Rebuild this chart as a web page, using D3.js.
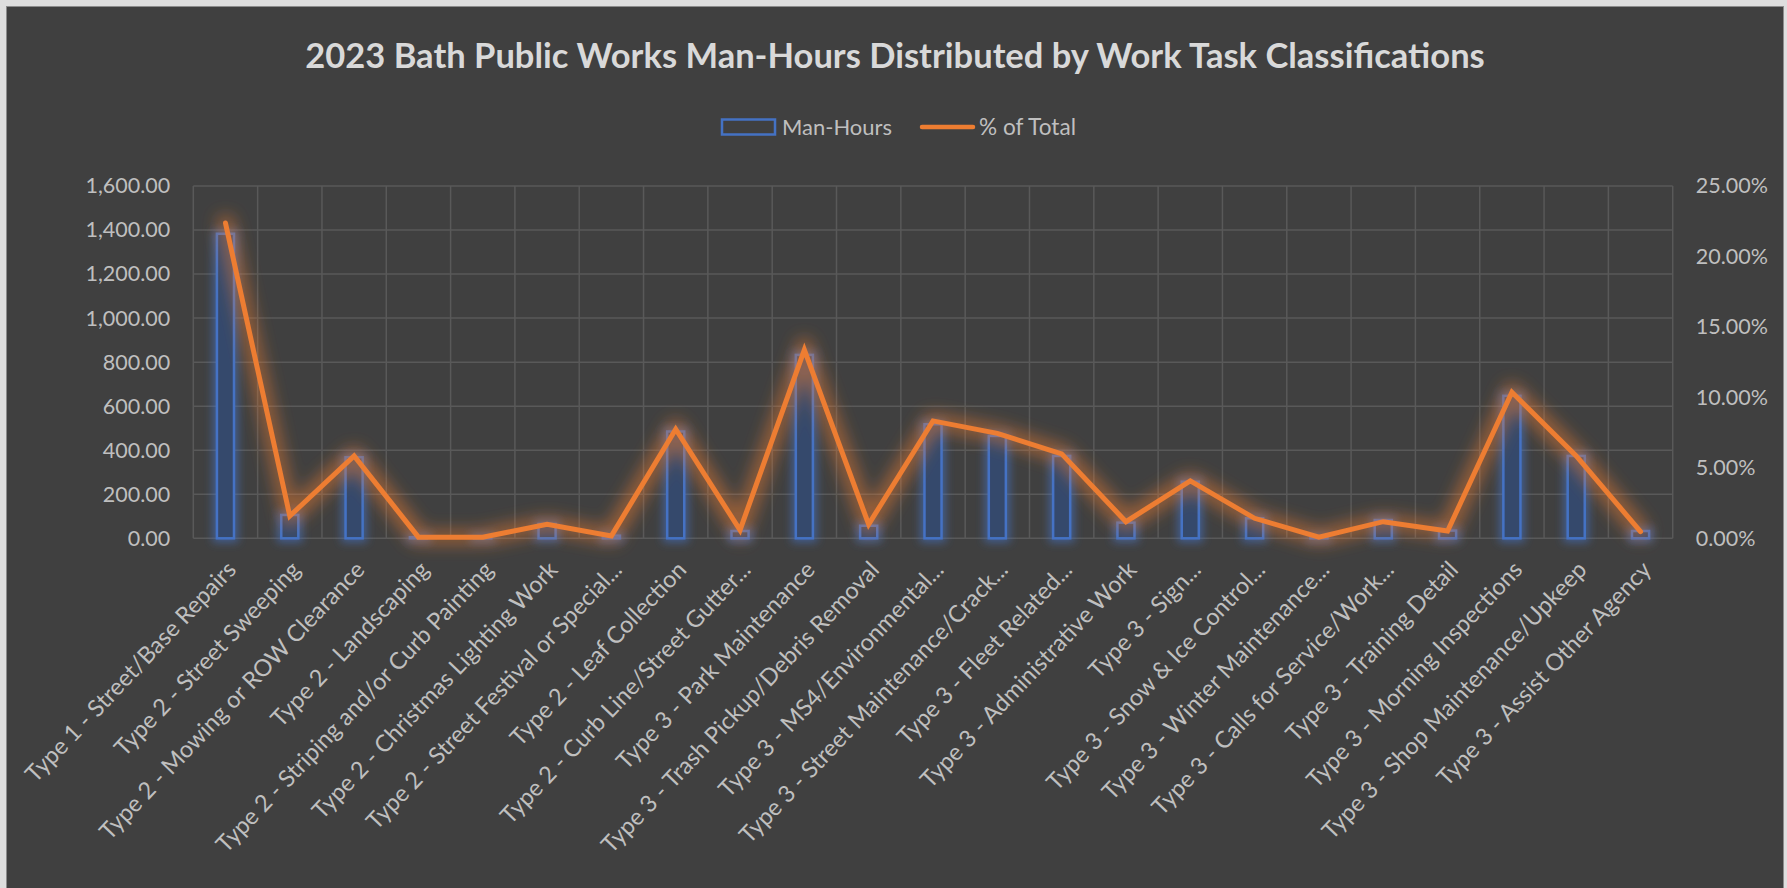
<!DOCTYPE html>
<html><head><meta charset="utf-8">
<script src="https://cdn.jsdelivr.net/npm/d3@7"></script>
<style>html,body{margin:0;padding:0;background:#dedede;overflow:hidden}</style>
</head><body><svg id="c" width="1787" height="888"></svg>
<script>
const titleText = "2023 Bath Public Works Man-Hours Distributed by Work Task Classifications";
const seriesNames = ["Man-Hours", "% of Total"];
const categories = [
  "Type 1 - Street/Base Repairs",
  "Type 2 - Street Sweeping",
  "Type 2 - Mowing or ROW Clearance",
  "Type 2 - Landscaping",
  "Type 2 - Striping and/or Curb Painting",
  "Type 2 - Christmas Lighting Work",
  "Type 2 - Street Festival or Special...",
  "Type 2 - Leaf Collection",
  "Type 2 - Curb Line/Street Gutter...",
  "Type 3 - Park Maintenance",
  "Type 3 - Trash Pickup/Debris Removal",
  "Type 3 - MS4/Environmental...",
  "Type 3 - Street Maintenance/Crack...",
  "Type 3 - Fleet Related...",
  "Type 3 - Administrative Work",
  "Type 3 - Sign...",
  "Type 3 - Snow & Ice Control...",
  "Type 3 - Winter Maintenance...",
  "Type 3 - Calls for Service/Work...",
  "Type 3 - Training Detail",
  "Type 3 - Morning Inspections",
  "Type 3 - Shop Maintenance/Upkeep",
  "Type 3 - Assist Other Agency"
];
const manHours = [1383, 106, 368, 5, 4, 65, 12, 485, 33, 833, 57, 518, 465, 374, 71, 257, 91, 4, 83, 35, 647, 374, 33];
const pctOfTotal = [22.37, 1.58, 5.84, 0.08, 0.07, 1.00, 0.17, 7.74, 0.59, 13.37, 0.99, 8.33, 7.45, 5.99, 1.18, 4.07, 1.42, 0.08, 1.18, 0.52, 10.37, 5.84, 0.47];
const leftTicks = [0, 200, 400, 600, 800, 1000, 1200, 1400, 1600];
const rightTicks = [0, 5, 10, 15, 20, 25];

const svg = d3.select("#c");
const plot = {left: 193.3, right: 1672.7, top: 186, bottom: 538.3};
const FONT = "Lato, 'Open Sans', sans-serif";
const TXT = "#bfbfbf";

svg.append("rect").attr("x", 6.5).attr("y", 6.5).attr("width", 1777).attr("height", 890)
  .attr("fill", "#404040").attr("stroke", "#8c8c8c").attr("stroke-width", 1);

const defs = svg.append("defs");
function glow(id, color, dilate, blur, op) {
  const f = defs.append("filter").attr("id", id).attr("x", "-50%").attr("y", "-50%").attr("width", "200%").attr("height", "200%");
  f.append("feMorphology").attr("in", "SourceAlpha").attr("operator", "dilate").attr("radius", dilate).attr("result", "d");
  f.append("feGaussianBlur").attr("in", "d").attr("stdDeviation", blur).attr("result", "b");
  f.append("feFlood").attr("flood-color", color).attr("flood-opacity", op).attr("result", "c");
  f.append("feComposite").attr("in", "c").attr("in2", "b").attr("operator", "in").attr("result", "g");
  const m = f.append("feMerge");
  m.append("feMergeNode").attr("in", "g");
  m.append("feMergeNode").attr("in", "SourceGraphic");
}
glow("barGlow", "#4472c4", 3, 4.5, 0.6);
glow("lineGlow", "#ed7d31", 5, 8, 0.5);

const x = d3.scaleBand().domain(categories).range([plot.left, plot.right]).paddingInner(0).paddingOuter(0);
const yL = d3.scaleLinear().domain([0, 1600]).range([plot.bottom, plot.top]);
const yR = d3.scaleLinear().domain([0, 25]).range([plot.bottom, plot.top]);

function fit(sel, target) {
  const w = sel.node().getComputedTextLength();
  const fs = parseFloat(sel.attr("font-size"));
  sel.attr("font-size", (fs * target / w).toFixed(2));
}

const grid = svg.append("g").attr("stroke", "#595959").attr("stroke-width", 1.5);
grid.selectAll("line.h").data(leftTicks).join("line").attr("class", "h")
  .attr("x1", plot.left).attr("x2", plot.right).attr("y1", d => yL(d)).attr("y2", d => yL(d));
const bounds = categories.map(c => x(c)).concat([plot.right]);
grid.selectAll("line.v").data(bounds).join("line").attr("class", "v")
  .attr("x1", d => d).attr("x2", d => d).attr("y1", plot.top).attr("y2", plot.bottom);

const axL = svg.append("g").attr("transform", `translate(${plot.left},0)`)
  .call(d3.axisLeft(yL).tickValues(leftTicks).tickSize(0).tickPadding(23).tickFormat(d3.format(",.2f")));
axL.select(".domain").remove();
axL.selectAll("text").attr("font-family", FONT).attr("font-size", 21.5).attr("fill", TXT);

const axR = svg.append("g").attr("transform", `translate(${plot.right},0)`)
  .call(d3.axisRight(yR).tickValues(rightTicks).tickSize(0).tickPadding(23).tickFormat(d => d3.format(".2f")(d) + "%"));
axR.select(".domain").remove();
axR.selectAll("text").attr("font-family", FONT).attr("font-size", 21.5).attr("fill", TXT);

const bw = x.bandwidth() * 0.265;
svg.append("g").attr("filter", "url(#barGlow)")
  .selectAll("rect").data(manHours).join("rect")
  .attr("x", (d, i) => x(categories[i]) + x.bandwidth() / 2 - bw / 2)
  .attr("y", d => yL(d))
  .attr("width", bw)
  .attr("height", d => Math.max(0, yL(0) - yL(d)))
  .attr("fill", "#36496c")
  .attr("stroke", "#4472c4").attr("stroke-width", 2.5);

const line = d3.line().x((d, i) => x(categories[i]) + x.bandwidth() / 2).y(d => yR(d));
svg.append("path").datum(pctOfTotal).attr("d", line)
  .attr("fill", "none").attr("stroke", "#ed7d31").attr("stroke-width", 5)
  .attr("stroke-linejoin", "miter").attr("stroke-linecap", "round")
  .attr("filter", "url(#lineGlow)");

svg.append("g").selectAll("text").data(categories).join("text")
  .attr("transform", d => `translate(${x(d) + x.bandwidth() / 2 + 6},${plot.bottom + 27}) rotate(-46.5)`)
  .attr("text-anchor", "end").attr("dy", "0.35em")
  .attr("font-family", FONT).attr("font-size", 23.5).attr("fill", TXT)
  .text(d => d);

const title = svg.append("text").attr("x", 895).attr("y", 68).attr("text-anchor", "middle")
  .attr("font-family", FONT).attr("font-weight", "bold").attr("font-size", 34).attr("fill", "#d9d9d9")
  .text(titleText);
fit(title, 1180);

svg.append("rect").attr("x", 722).attr("y", 119.5).attr("width", 53).attr("height", 15)
  .attr("fill", "#404040").attr("stroke", "#4472c4").attr("stroke-width", 2.5);
const lt1 = svg.append("text").attr("x", 782).attr("y", 135).attr("font-family", FONT)
  .attr("font-size", 22).attr("fill", TXT).text(seriesNames[0]);
fit(lt1, 110);
svg.append("line").attr("x1", 922).attr("x2", 973).attr("y1", 127).attr("y2", 127)
  .attr("stroke", "#ed7d31").attr("stroke-width", 4.5).attr("stroke-linecap", "round");
const lt2 = svg.append("text").attr("x", 979).attr("y", 135).attr("font-family", FONT)
  .attr("font-size", 22).attr("fill", TXT).text(seriesNames[1]);
fit(lt2, 97);
</script></body></html>
